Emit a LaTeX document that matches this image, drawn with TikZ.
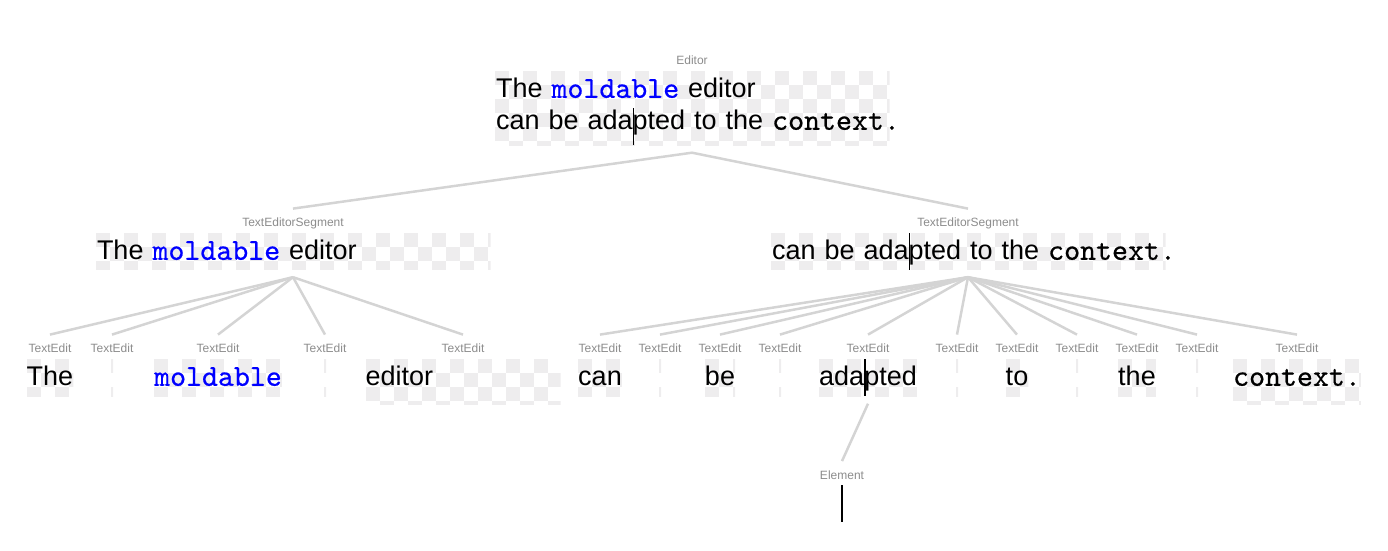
\documentclass[tikz,border=0pt]{standalone}
\usepackage{fontspec}
\setmainfont{Liberation Sans}
\newfontfamily\codefont{lmmono10-regular.otf}[FakeBold=0.5]
\usepackage{tikz}
\usetikzlibrary{positioning}

\definecolor{labelgray}{RGB}{140,140,140}
\definecolor{linkgray}{RGB}{212,212,212}
\definecolor{checkgray}{RGB}{238,237,238}
\definecolor{codeblue}{RGB}{0,0,255}

\newcommand{\code}[1]{{\codefont\fontsize{15.2pt}{16pt}\selectfont #1}}
\newcommand{\bluecode}[1]{\textcolor{codeblue}{\code{#1}}}
\newcommand{\cursor}[2]{\rlap{\rule[-#1]{0.75pt}{#2}}}

\begin{document}
\begin{tikzpicture}[x=0.5pt,y=-0.5pt,node distance=2.3pt,
  tag/.style={font=\fontsize{6}{6}\selectfont, text=labelgray, inner sep=0pt,
    text height=5pt, text depth=0.4pt},
  tile/.style={font=\fontsize{13.5}{16}\selectfont, inner sep=0pt,
    text height=13.5pt, text depth=5.25pt,
    path picture={
      \foreach \i in {0,...,29}
        \foreach \j in {0,...,5}{
          \pgfmathtruncatemacro{\k}{mod(\i+\j,2)}
          \ifnum\k=0
            \fill[checkgray] ([shift={(14*\i,14*\j)}]path picture bounding box.north west) rectangle ++(14,14);
          \fi
        }}},
  wide/.style={text width=#1, align=left},
  link/.style={draw=linkgray, line width=1.25pt}]
  \useasboundingbox (0,0) rectangle (1388,551);

  % whole editor
  \node[tag] (ed) at (692,60) {Editor};
  \node[tile, wide=196pt, inner xsep=0.75pt, text depth=23.75pt, below=of ed] (edbox)
    {\mbox{The \bluecode{moldable} editor}\\\mbox{can be ada\cursor{7.65pt}{18.5pt}pted to the \code{context.}}};

  % the two segments
  \node[tag] (sa) at (293,222) {TextEditorSegment};
  \node[tile, wide=196pt, inner xsep=0.75pt, text depth=5pt, below=of sa] (sabox)
    {\mbox{The \bluecode{moldable} editor}};
  \node[tag] (sb) at (968,222) {TextEditorSegment};
  \node[tile, wide=196pt, inner xsep=0.75pt, text depth=5pt, below=of sb] (sbbox)
    {\mbox{can be ada\cursor{5pt}{18.5pt}pted to the \code{context.}}};

  % words of the first segment
  \node[tag] (a1) at (50,348) {TextEdit};
  \node[tile, below=of a1] (a1box) {The};
  \node[tag] (a2) at (112,348) {TextEdit};
  \node[tile, below=of a2] (a2box) {\ };
  \node[tag] (a3) at (218,348) {TextEdit};
  \node[tile, below=of a3] (a3box) {\bluecode{moldable}};
  \node[tag] (a4) at (325,348) {TextEdit};
  \node[tile, below=of a4] (a4box) {\ };
  \node[tag] (a5) at (463,348) {TextEdit};
  \node[tile, wide=97.5pt, text depth=9.5pt, below=of a5] (a5box) {editor};

  % words of the second segment
  \node[tag] (b1) at (600,348) {TextEdit};
  \node[tile, below=of b1] (b1box) {can};
  \node[tag] (b2) at (660,348) {TextEdit};
  \node[tile, below=of b2] (b2box) {\ };
  \node[tag] (b3) at (720,348) {TextEdit};
  \node[tile, below=of b3] (b3box) {be};
  \node[tag] (b4) at (780,348) {TextEdit};
  \node[tile, below=of b4] (b4box) {\ };
  \node[tag] (b5) at (868,348) {TextEdit};
  \node[tile, below=of b5] (b5box) {ada\cursor{5pt}{18.5pt}pted};
  \node[tag] (b6) at (957,348) {TextEdit};
  \node[tile, below=of b6] (b6box) {\ };
  \node[tag] (b7) at (1017,348) {TextEdit};
  \node[tile, below=of b7] (b7box) {to};
  \node[tag] (b8) at (1077,348) {TextEdit};
  \node[tile, below=of b8] (b8box) {\ };
  \node[tag] (b9) at (1137,348) {TextEdit};
  \node[tile, below=of b9] (b9box) {the};
  \node[tag] (b10) at (1197,348) {TextEdit};
  \node[tile, below=of b10] (b10box) {\ };
  \node[tag] (b11) at (1297,348) {TextEdit};
  \node[tile, text depth=9.5pt, below=of b11] (b11box) {\code{context.}};

  % the cursor element
  \node[tag] (el) at (842,474.5) {Element};
  \node[fill=black, inner sep=0pt, minimum width=0.75pt, minimum height=18.5pt, below=of el] (elbox) {};

  % links
  \foreach \c in {sa,sb}
    \draw[link] ([yshift=-3.5pt]edbox.south) -- ([yshift=3.8pt]\c.north);
  \foreach \c in {a1,a2,a3,a4,a5}
    \draw[link] ([yshift=-3.5pt]sabox.south) -- ([yshift=3.8pt]\c.north);
  \foreach \c in {b1,b2,b3,b4,b5,b6,b7,b8,b9,b10,b11}
    \draw[link] ([yshift=-3.5pt]sbbox.south) -- ([yshift=3.8pt]\c.north);
  \draw[link] ([yshift=-3.5pt]b5box.south) -- ([yshift=3.8pt]el.north);
\end{tikzpicture}
\end{document}
